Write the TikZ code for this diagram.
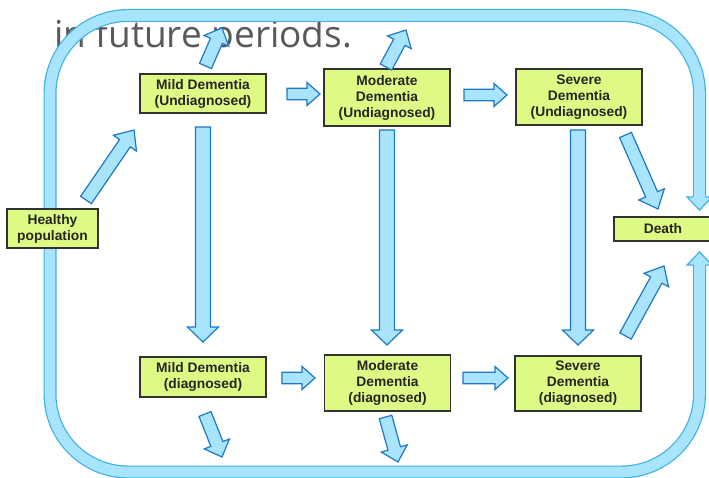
\documentclass[tikz,border=0pt]{standalone}
\usepackage{fontspec}
\setmainfont{Liberation Sans}
\newfontfamily\titlefont{Open Sans}
\usetikzlibrary{calc}
\definecolor{boxfill}{RGB}{221,250,133}
\definecolor{boxedge}{RGB}{50,50,50}
\definecolor{arrfill}{RGB}{168,228,252}
\definecolor{arredge}{RGB}{30,120,200}
\definecolor{loopedge}{RGB}{60,176,232}
\definecolor{titlegray}{RGB}{89,89,89}
\tikzset{
  statebox/.style={draw=boxedge, fill=boxfill, line width=1.3pt,
    font=\fontsize{13.8}{16}\selectfont\bfseries, text=black!85, align=center,
    inner sep=0pt, minimum width=126pt, minimum height=40pt},
  blockarr/.style={draw=arredge, fill=arrfill, line width=1.2pt, line join=miter},
  loopband/.style={line width=13pt, draw=loopedge, rounded corners=78pt},
  loopinner/.style={line width=10.6pt, draw=arrfill, rounded corners=78pt},
  loophead/.style={draw=loopedge, line width=1.2pt, line join=miter},
}
% #1 from, #2 to, #3 half shaft width, #4 half head width, #5 head length
\newcommand\blockarrow[5]{%
  \draw[blockarr] let \p1=(#1), \p2=(#2),
    \n1={atan2(\y2-\y1,\x2-\x1)}, \n2={veclen(\x2-\x1,\y2-\y1)} in
    [shift={(\p1)}, rotate=\n1]
    (0,-#3) -- ({\n2-#5},-#3) -- ({\n2-#5},-#4) -- (\n2,0)
    -- ({\n2-#5},#4) -- ({\n2-#5},#3) -- (0,#3) -- cycle;}
\begin{document}
\begin{tikzpicture}[x=1pt,y=-1pt]
\useasboundingbox (0,0) rectangle (709,478);

% title text (behind everything)
\node[anchor=base west, inner sep=0pt, text=titlegray,
      font=\titlefont\fontsize{37}{42}\selectfont] (title) at (54,48) {in future periods.};

% big return loop
\coordinate (loopA) at (699.5,197);
\coordinate (loopB) at (699.5,265);
\draw[loopband] (loopA) -- (699.5,15.5) -- (50,15.5) -- (50,472) -- (699.5,472) -- (loopB);
\draw[loopinner] (loopA) -- (699.5,15.5) -- (50,15.5) -- (50,472) -- (699.5,472) -- (loopB);
\coordinate (loopTipA) at (699.5,210);
\coordinate (loopTipB) at (699.5,252);
\fill[arrfill] (687,197) -- (loopTipA) -- (712,197) -- cycle;
\draw[loophead] (693,197) -- (687,197) -- (loopTipA) -- (712,197) -- (706,197);
\fill[arrfill] (687,265) -- (loopTipB) -- (712,265) -- cycle;
\draw[loophead] (693,265) -- (687,265) -- (loopTipB) -- (712,265) -- (706,265);

% boxes
\node[statebox, minimum width=91pt, minimum height=39pt] (healthy) at (52.5,228.5) {Healthy\\population};
\node[statebox, minimum height=39pt] (mu) at (203,93.5) {Mild Dementia\\(Undiagnosed)};
\node[statebox, minimum height=57pt] (modu) at (387,97.5) {Moderate\\Dementia\\(Undiagnosed)};
\node[statebox, minimum height=56pt] (sevu) at (579,97) {Severe\\Dementia\\(Undiagnosed)};
\node[statebox, minimum width=98pt, minimum height=24pt] (death) at (663,229) {Death};
\node[statebox] (md) at (203,377) {Mild Dementia\\(diagnosed)};
\node[statebox, minimum height=56pt] (modd) at (387.5,383) {Moderate\\Dementia\\(diagnosed)};
\node[statebox, minimum height=55pt] (sevd) at (578,383.5) {Severe\\Dementia\\(diagnosed)};

% arrow end points
\coordinate (h1) at (86,200);   \coordinate (h2) at (134,130);
\coordinate (mu1) at (205.5,66); \coordinate (mu2) at (222,28);
\coordinate (mo1) at (386,67);  \coordinate (mo2) at (406,30);
\coordinate (su1) at (625.5,135); \coordinate (su2) at (658,209);
\coordinate (sd1) at (625.5,336); \coordinate (sd2) at (664,266);
\coordinate (md1) at (205,414); \coordinate (md2) at (222,457);
\coordinate (mdd1) at (385.5,417); \coordinate (mdd2) at (398,462);
\coordinate (hu1) at (287,94);  \coordinate (hu2) at (320,94);
\coordinate (hu3) at (464,95);  \coordinate (hu4) at (507,95);
\coordinate (hd1) at (282,378); \coordinate (hd2) at (315,378);
\coordinate (hd3) at (463,378); \coordinate (hd4) at (508,378);
\coordinate (v1a) at (203,127); \coordinate (v1b) at (203,342);
\coordinate (v2a) at (387,130); \coordinate (v2b) at (387,345);
\coordinate (v3a) at (578,130); \coordinate (v3b) at (578,345);

% block arrows
\blockarrow{h1}{h2}{6.5}{14}{16}
\blockarrow{mu1}{mu2}{6.5}{13.5}{14}
\blockarrow{mo1}{mo2}{6.5}{13.5}{14}
\blockarrow{su1}{su2}{6.5}{14}{16}
\blockarrow{sd1}{sd2}{6.5}{14}{16}
\blockarrow{md1}{md2}{6.5}{13.5}{14}
\blockarrow{mdd1}{mdd2}{6.5}{13.5}{14}
\blockarrow{hu1}{hu2}{5.8}{11.5}{13}
\blockarrow{hu3}{hu4}{5.8}{11.5}{13}
\blockarrow{hd1}{hd2}{5.8}{11.5}{13}
\blockarrow{hd3}{hd4}{5.8}{11.5}{13}
\blockarrow{v1a}{v1b}{7.5}{15.5}{15}
\blockarrow{v2a}{v2b}{7.5}{15.5}{15}
\blockarrow{v3a}{v3b}{7.5}{15.5}{15}
\end{tikzpicture}
\end{document}
